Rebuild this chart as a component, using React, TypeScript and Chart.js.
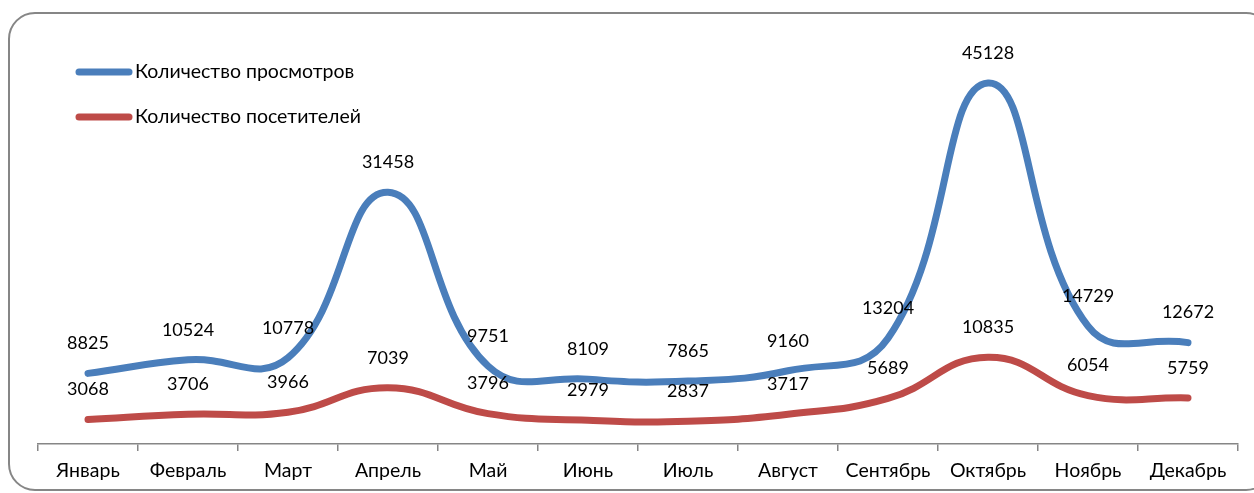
import React, { useEffect, useRef } from "react";
import { Chart, registerables } from "chart.js";

Chart.register(...registerables);

const categories = ["Январь", "Февраль", "Март", "Апрель", "Май", "Июнь", "Июль", "Август", "Сентябрь", "Октябрь", "Ноябрь", "Декабрь"];
const viewsLabel = "Количество просмотров";
const visitorsLabel = "Количество посетителей";
const views = [8825, 10524, 10778, 31458, 9751, 8109, 7865, 9160, 13204, 45128, 14729, 12672];
const visitors = [3068, 3706, 3966, 7039, 3796, 2979, 2837, 3717, 5689, 10835, 6054, 5759];

const FONT = "Lato, 'Open Sans', sans-serif";
const BLUE = "#4A7EBB";
const RED = "#BE4B48";

const framePlugin = {
  id: "frame",
  beforeDraw(chart: any) {
    const ctx = chart.ctx;
    ctx.save();
    ctx.fillStyle = "#ffffff";
    ctx.fillRect(0, 0, chart.width, chart.height);
    const x = 9, y = 13, w = 1263, h = 477, r = 26;
    ctx.beginPath();
    ctx.moveTo(x + r, y);
    ctx.lineTo(x + w - r, y);
    ctx.arcTo(x + w, y, x + w, y + r, r);
    ctx.lineTo(x + w, y + h - r);
    ctx.arcTo(x + w, y + h, x + w - r, y + h, r);
    ctx.lineTo(x + r, y + h);
    ctx.arcTo(x, y + h, x, y + h - r, r);
    ctx.lineTo(x, y + r);
    ctx.arcTo(x, y, x + r, y, r);
    ctx.closePath();
    ctx.strokeStyle = "#868686";
    ctx.lineWidth = 2;
    ctx.stroke();
    ctx.restore();
  },
};

const labelsPlugin = {
  id: "valueLabels",
  afterDatasetsDraw(chart: any) {
    const ctx = chart.ctx;
    ctx.save();
    ctx.font = `18px ${FONT}`;
    ctx.fillStyle = "#000000";
    ctx.textAlign = "center";
    ctx.textBaseline = "middle";
    chart.data.datasets.forEach((ds: any, di: number) => {
      const meta = chart.getDatasetMeta(di);
      meta.data.forEach((pt: any, i: number) => {
        ctx.fillText(String(ds.data[i]), pt.x, pt.y - 30);
      });
    });
    ctx.restore();
  },
};

const legendPlugin = {
  id: "customLegend",
  afterDraw(chart: any) {
    const ctx = chart.ctx;
    ctx.save();
    ctx.font = `19.5px ${FONT}`;
    ctx.textAlign = "left";
    ctx.textBaseline = "middle";
    chart.data.datasets.forEach((ds: any, di: number) => {
      const y = 72 + di * 45;
      ctx.beginPath();
      ctx.moveTo(79, y);
      ctx.lineTo(129, y);
      ctx.strokeStyle = ds.borderColor;
      ctx.lineWidth = 7;
      ctx.lineCap = "round";
      ctx.stroke();
      ctx.fillStyle = "#000000";
      ctx.fillText(ds.label, 135, y);
    });
    ctx.restore();
  },
};

export default function App() {
  const ref = useRef<HTMLCanvasElement | null>(null);
  useEffect(() => {
    if (!ref.current) return;
    const chart = new Chart(ref.current, {
      type: "line",
      data: {
        labels: categories,
        datasets: [
          {
            label: viewsLabel,
            data: views,
            borderColor: BLUE,
            backgroundColor: BLUE,
            borderWidth: 7,
            pointRadius: 0,
            tension: 0.45,
            borderCapStyle: "round",
            borderJoinStyle: "round",
          },
          {
            label: visitorsLabel,
            data: visitors,
            borderColor: RED,
            backgroundColor: RED,
            borderWidth: 7,
            pointRadius: 0,
            tension: 0.45,
            borderCapStyle: "round",
            borderJoinStyle: "round",
          },
        ],
      },
      options: {
        animation: false,
        responsive: false,
        layout: { padding: { left: 38, right: 16, top: 44, bottom: 0 } },
        plugins: { legend: { display: false }, tooltip: { enabled: false } },
        scales: {
          x: {
            offset: true,
            grid: {
              offset: true,
              drawOnChartArea: false,
              drawTicks: true,
              tickLength: 7,
              color: "#868686",
              lineWidth: 1.5,
            },
            border: { display: true, color: "#868686", width: 1.5 },
            ticks: {
              color: "#000000",
              font: { family: FONT, size: 19.5 },
              padding: 8,
              maxRotation: 0,
              autoSkip: false,
            },
            afterFit(scale: any) {
              scale.height = 49;
            },
          },
          y: {
            display: false,
            min: 0,
            max: 50000,
          },
        },
      },
      plugins: [framePlugin, labelsPlugin, legendPlugin],
    });
    return () => chart.destroy();
  }, []);
  return (
    <div style={{ position: "absolute", left: 0, top: 0, width: 1254, height: 493 }}>
      <canvas ref={ref} width={1254} height={493} style={{ display: "block" }} />
    </div>
  );
}
